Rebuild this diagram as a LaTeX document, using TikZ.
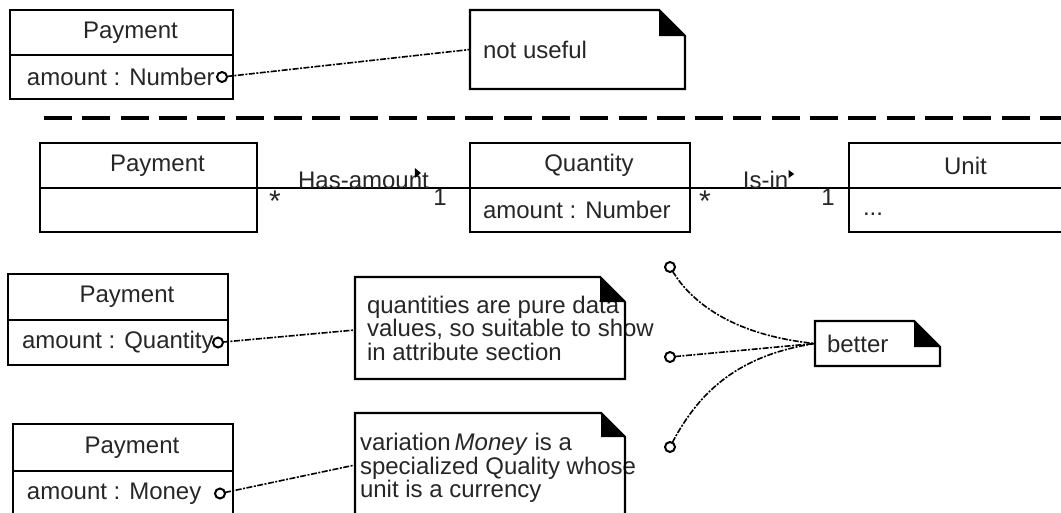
\documentclass[tikz,border=0pt]{standalone}
\usepackage{fontspec}
\setmainfont{Liberation Sans}
\usetikzlibrary{calc}

\newcommand\umlfont{\fontsize{24}{23.5}\selectfont}

\tikzset{
  every node/.style={font=\umlfont, text=black!85},
  compart/.style={draw, line width=2.2pt, anchor=north west, inner sep=0pt, outer sep=0pt},
  plain/.style={inner sep=0pt, outer sep=0pt},
  star/.style={plain, font=\fontsize{30}{30}\selectfont},
  attr/.style={plain, anchor=west},
  port/.style={circle, draw, line width=2pt, fill=white, inner sep=0pt, minimum size=10pt, outer sep=0pt},
  notelink/.style={line width=1.6pt, dash pattern=on 6pt off 1.5pt on 2pt off 1.5pt},
  assoc/.style={line width=1.8pt},
  noteframe/.style={plain, anchor=north west},
  noteline/.style={line width=2.2pt, line join=miter},
  separator/.style={line width=4.5pt, dash pattern=on 28pt off 10.3pt},
  notetext/.style={plain, anchor=west, align=left},
}

% UML note outline with a dog-ear corner drawn over a named frame node
\newcommand\umlnote[2]{%
  \draw[noteline] (#1.north west) -- ([xshift=-#2]#1.north east)
    -- ([yshift=-#2]#1.north east) -- (#1.south east) -- (#1.south west) -- cycle;
  \fill[black] ([xshift=-#2]#1.north east) -- ([xshift=-#2,yshift=-#2]#1.north east)
    -- ([yshift=-#2]#1.north east) -- cycle;
}

\begin{document}
\begin{tikzpicture}[x=1pt,y=-1pt]
\useasboundingbox (0,0) rectangle (1061,512);

% ---------- attribute typed by a plain number ----------
\node[compart, minimum width=223pt, minimum height=45pt] (p1h) at (10,10) {};
\node[plain] (p1n) at ([xshift=9pt]p1h.center) {Payment};
\node[compart, minimum width=223pt, minimum height=44pt] (p1a) at (p1h.south west) {};
\node[attr] (p1t) at ([xshift=17pt]p1a.west) {amount : Number};
\node[port] (c1) at ([xshift=-11pt]p1a.east) {};

\node[noteframe, minimum width=215pt, minimum height=79pt] (n1) at (470,10) {};
\node[notetext] (n1t) at ([xshift=13pt]n1.west) {not useful};
\umlnote{n1}{26pt}
\draw[notelink] (c1) -- (n1.west);

% ---------- separator ----------
\coordinate (sepL) at (44,118);
\coordinate (sepR) at (1066,118);
\draw[separator] (sepL) -- (sepR);

% ---------- Payment -- Quantity -- Unit ----------
\node[compart, minimum width=217pt, minimum height=45pt] (p2h) at (40,143) {};
\node[plain] (p2n) at ([xshift=9pt]p2h.center) {Payment};
\node[compart, minimum width=217pt, minimum height=44pt] (p2a) at (p2h.south west) {};

\node[compart, minimum width=220pt, minimum height=45pt] (qh) at (470,143) {};
\node[plain] (qn) at ([xshift=9pt]qh.center) {Quantity};
\node[compart, minimum width=220pt, minimum height=44pt] (qa) at (qh.south west) {};
\node[attr] (qt) at ([xshift=13pt]qa.west) {amount : Number};

\node[compart, minimum width=215pt, minimum height=45pt] (uh) at (849,143) {};
\node[plain] (un) at ([xshift=9pt]uh.center) {Unit};
\node[compart, minimum width=215pt, minimum height=44pt] (ua) at (uh.south west) {};
\node[attr] (ut) at ([xshift=14pt,yshift=-4pt]ua.west) {...};

\draw[assoc] (p2h.south east) -- (qh.south west);
\draw[assoc] (qh.south east) -- (uh.south west);

\node[plain] (has) at ([yshift=8pt]$(p2h.south east)!0.5!(qh.south west)$) {Has-amount};
\fill ([xshift=-14pt,yshift=12pt]has.east) -- ++(6,5) -- ++(-6,5) -- cycle;
\node[plain] (isin) at ([xshift=-4pt,yshift=8pt]$(qh.south east)!0.5!(uh.south west)$) {Is-in};
\fill ([xshift=0.5pt,yshift=10pt]isin.east) -- ++(5.5,4) -- ++(-5.5,4) -- cycle;

\node[star] (m1) at ([xshift=18pt,yshift=-13pt]p2h.south east) {*};
\node[plain] (m2) at ([xshift=-30pt,yshift=-9pt]qh.south west) {1};
\node[star] (m3) at ([xshift=15pt,yshift=-13pt]qh.south east) {*};
\node[plain] (m4) at ([xshift=-21pt,yshift=-9pt]uh.south west) {1};

% ---------- attribute typed by Quantity ----------
\node[compart, minimum width=220pt, minimum height=46pt] (p3h) at (8,274) {};
\node[plain] (p3n) at ([xshift=9pt]p3h.center) {Payment};
\node[compart, minimum width=220pt, minimum height=45pt] (p3a) at (p3h.south west) {};
\node[attr] (p3t) at ([xshift=14pt]p3a.west) {amount : Quantity};
\node[port] (c3) at ([xshift=-10pt]p3a.east) {};

\node[noteframe, minimum width=270pt, minimum height=102pt] (n3) at (355,277) {};
\node[notetext] (n3t) at ([xshift=12pt]n3.west)
  {quantities are pure data\\values, so suitable to show\\in attribute section};
\umlnote{n3}{25pt}
\coordinate (n3in) at ([yshift=-53pt]n3.north west);
\draw[notelink] (c3) -- (n3in);

% ---------- attribute typed by Money ----------
\node[compart, minimum width=220pt, minimum height=47pt] (p4h) at (13,424) {};
\node[plain] (p4n) at ([xshift=9pt]p4h.center) {Payment};
\node[compart, minimum width=220pt, minimum height=45pt] (p4a) at (p4h.south west) {};
\node[attr] (p4t) at ([xshift=14pt]p4a.west) {amount : Money};
\node[port] (c4) at ([xshift=-13pt]p4a.east) {};

\node[noteframe, minimum width=270pt, minimum height=120pt] (n4) at (355,413) {};
\node[notetext] (n4t) at ([xshift=5pt,yshift=-55pt]n4.north west)
  {variation\,\textit{Money} is a\\specialized Quality whose\\unit is a currency};
\umlnote{n4}{24pt}
\coordinate (n4in) at ([yshift=-52pt]n4.north west);
\draw[notelink] (c4) -- (n4in);

% ---------- shared comment ----------
\node[noteframe, minimum width=125pt, minimum height=45pt] (bt) at (815,321) {};
\node[notetext] (btt) at ([xshift=12pt]bt.west) {better};
\umlnote{bt}{26pt}

\node[port] (c5) at (670,267) {};
\node[port] (c6) at (670,357) {};
\node[port] (c7) at (670,447) {};
\draw[notelink] (c5) .. controls (690,300) and (730,335) .. (bt.west);
\draw[notelink] (c6) -- (bt.west);
\draw[notelink] (c7) .. controls (700,390) and (740,355) .. (bt.west);
\end{tikzpicture}
\end{document}
